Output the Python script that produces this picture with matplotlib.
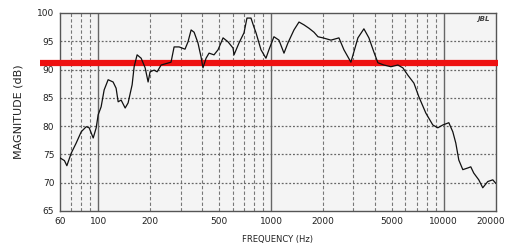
import matplotlib
matplotlib.use("Agg")
import matplotlib.pyplot as plt
from matplotlib.ticker import FixedLocator, NullFormatter
from matplotlib.transforms import ScaledTranslation

freq = [60, 63.8, 65.9, 69.8, 74.6, 79.8, 85.3, 88.7, 93.6, 97.4, 100, 104, 108.3, 114.2,
        122, 127, 130.5, 135.8, 143.3, 149, 157.2, 161.5, 168, 177.3, 187, 194.5, 199.7,
        210.7, 219.3, 231.3, 264, 275, 294, 318, 331, 345, 359, 378, 394, 404, 421, 438,
        468, 494, 528, 564, 603, 611, 653, 698, 726, 766, 797, 819, 875, 935, 973, 1040,
        1112, 1189, 1253, 1358, 1452, 1552, 1659, 1773, 1870, 1998, 2223, 2472, 2642, 2900,
        3184, 3448, 3686, 3938, 4155, 4500, 4939, 5420, 5794, 6194, 6714, 7168, 7870, 8635,
        9230, 9868, 10690, 11270, 11730, 12210, 12880, 13770, 14320, 14900, 15930, 16800,
        17960, 19200, 19960]
magnitude = [74.4, 73.9, 73.0, 75.2, 77.0, 79.0, 79.9, 79.7, 77.9, 79.7, 82.0, 83.4, 86.4, 88.2,
             87.8, 86.7, 84.3, 84.6, 83.2, 84.1, 87.3, 90.5, 92.6, 92.0, 90.3, 87.8, 89.6,
             89.9, 89.6, 90.8, 91.3, 94.0, 94.0, 93.6, 94.9, 97.0, 96.6, 94.7, 92.2, 90.3, 92.0,
             92.9, 92.6, 93.5, 95.6, 94.9, 93.8, 92.6, 94.7, 96.5, 99.1, 99.1, 97.5, 96.5, 93.5,
             92.0, 93.5, 95.8, 95.2, 92.9, 94.7, 97.0, 98.4, 97.9, 97.3, 96.6, 95.8, 95.6, 95.2,
             95.6, 93.5, 91.3, 95.6, 97.2, 95.6, 93.1, 91.2, 90.8, 90.5, 90.8, 90.3, 89.0, 87.6,
             85.2, 82.3, 80.2, 79.7, 80.2, 80.6, 79.0, 77.0, 74.0, 72.3, 72.6, 72.8, 71.7, 70.5,
             69.1, 70.2, 70.5, 69.9]
reference_level = 91.2

x_ticks = [60, 100, 200, 500, 1000, 2000, 5000, 10000, 20000]
x_tick_labels = ["60", "100", "200", "500", "1000", "2000", "5000", "10000", "20000"]
y_ticks = [65, 70, 75, 80, 85, 90, 95, 100]
major_grid_x = [100, 1000, 10000]
minor_grid_x = [70, 80, 90, 200, 300, 400, 500, 600, 700, 800, 900,
                2000, 3000, 4000, 5000, 6000, 7000, 8000, 9000]

fig = plt.figure(figsize=(5.07, 2.45), dpi=100)
ax = fig.add_axes([0.118, 0.139, 0.860, 0.808])
ax.set_facecolor("#f4f4f4")
ax.set_xscale("log")
ax.set_xlim(60, 20000)
ax.set_ylim(65, 100)

for v in minor_grid_x:
    ax.axvline(v, color="#777777", lw=0.8, ls=(0, (3, 2)), zorder=1)
for v in major_grid_x:
    ax.axvline(v, color="#666666", lw=1.0, ls="-", zorder=1)
for v in y_ticks[1:-1]:
    ax.axhline(v, color="#666666", lw=0.9, ls=(0, (1.5, 1.5)), zorder=1)

ax.plot([-0.045, 1.006], [reference_level, reference_level], color="#ee1111",
        lw=4.5, transform=ax.get_yaxis_transform(), clip_on=False, zorder=3,
        solid_capstyle="butt")
ax.plot(freq, magnitude, color="#111111", lw=0.9, zorder=4)

ax.xaxis.set_major_locator(FixedLocator(x_ticks))
ax.set_xticklabels(x_tick_labels)
ax.xaxis.set_minor_formatter(NullFormatter())
ax.xaxis.set_minor_locator(FixedLocator([]))
ax.set_yticks(y_ticks)
ax.tick_params(axis="both", length=0, labelsize=6.5, colors="#222222", pad=4)
last = ax.get_xticklabels()[-1]
last.set_transform(last.get_transform() + ScaledTranslation(-5 / 100, 0, fig.dpi_scale_trans))

for s in ax.spines.values():
    s.set_color("#555555")
    s.set_linewidth(1.0)

ax.set_xlabel("FREQUENCY (Hz)", fontsize=6, color="#222222", labelpad=7)
ax.set_ylabel("MAGNITUDE (dB)", fontsize=8, color="#222222", labelpad=10)
ax.text(0.985, 0.985, "JBL", transform=ax.transAxes, ha="right", va="top",
        fontsize=5, style="italic", fontweight="bold", color="#444444")

fig.savefig("out.png", dpi=100, facecolor="white")
